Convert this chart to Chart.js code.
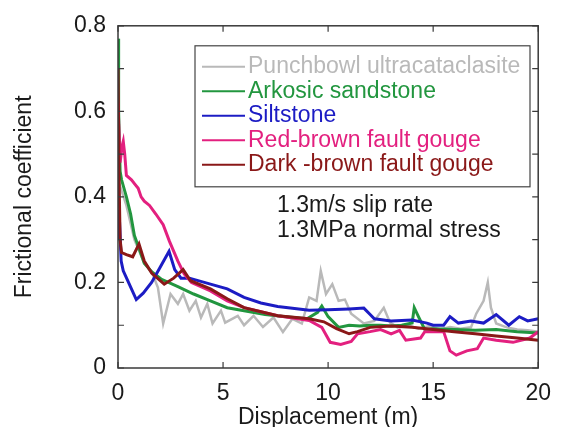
<!DOCTYPE html>
<html>
<head>
<meta charset="utf-8">
<script src="https://cdn.jsdelivr.net/npm/chart.js@4.4.1/dist/chart.umd.min.js"></script>
<style>
    html, body { margin: 0; padding: 0; background: #fff; }
    #wrap { width: 563px; height: 427px; }
</style>
</head>
<body>
<div id="wrap"><canvas id="frictionChart" width="563" height="427"></canvas></div>
<script>
// values (displacement in m, frictional coefficient)
const punchbowlX = [0, 0.4, 0.78, 1.25, 1.6, 1.9, 2.15, 2.5, 2.85, 3.1, 3.4, 3.7, 3.95, 4.25, 4.5, 4.9, 5.1, 5.7, 6.0, 6.45, 6.9, 7.4, 7.85, 8.3, 8.75, 9.1, 9.45, 9.65, 9.9, 10.2, 10.5, 10.8, 11.1, 11.7, 12.2, 12.65, 12.95, 13.3, 13.8, 14.3, 14.8, 15.3, 15.8, 16.3, 16.8, 17.05, 17.4, 17.6, 17.75, 18.0, 18.5, 19.0, 19.5, 20];
const punchbowlY = [0.44, 0.38, 0.3, 0.245, 0.225, 0.188, 0.104, 0.173, 0.15, 0.173, 0.134, 0.157, 0.118, 0.15, 0.104, 0.134, 0.106, 0.122, 0.1, 0.122, 0.096, 0.118, 0.084, 0.115, 0.104, 0.165, 0.157, 0.227, 0.173, 0.196, 0.157, 0.16, 0.127, 0.104, 0.11, 0.141, 0.106, 0.095, 0.1, 0.092, 0.098, 0.09, 0.096, 0.092, 0.095, 0.127, 0.157, 0.2, 0.141, 0.104, 0.095, 0.09, 0.088, 0.085];

const arkosicX = [0, 0.03, 0.1, 0.17, 0.4, 0.6, 0.78, 1.0, 1.25, 1.6, 2.05, 2.85, 3.6, 4.4, 5.2, 6.0, 7.0, 8.0, 9.0, 9.5, 9.7, 10.0, 10.5, 11.0, 11.5, 12.0, 12.5, 13.0, 13.5, 14.0, 14.1, 14.3, 14.6, 15.0, 16.0, 17.0, 18.0, 19.0, 20];
const arkosicY = [0.77, 0.6, 0.46, 0.44, 0.40, 0.36, 0.31, 0.28, 0.245, 0.225, 0.208, 0.19, 0.173, 0.157, 0.141, 0.134, 0.125, 0.12, 0.115, 0.13, 0.145, 0.12, 0.095, 0.1, 0.098, 0.1, 0.1, 0.098, 0.1, 0.105, 0.141, 0.12, 0.09, 0.092, 0.09, 0.088, 0.09, 0.085, 0.082];

const siltstoneX = [0, 0.05, 0.15, 0.25, 0.5, 0.87, 1.2, 1.6, 2.0, 2.43, 2.7, 3.0, 3.4, 4.4, 5.2, 6.0, 6.8, 7.6, 8.4, 9.1, 10.0, 11.0, 11.7, 12.0, 12.2, 13.0, 14.0, 14.7, 15.0, 15.5, 15.8, 16.2, 16.8, 17.4, 18.0, 18.6, 19.1, 19.5, 20];
const siltstoneY = [0.3, 0.37, 0.25, 0.227, 0.2, 0.16, 0.175, 0.2, 0.235, 0.273, 0.23, 0.21, 0.21, 0.196, 0.185, 0.165, 0.152, 0.144, 0.139, 0.135, 0.136, 0.138, 0.14, 0.125, 0.115, 0.11, 0.112, 0.105, 0.1, 0.1, 0.12, 0.105, 0.11, 0.105, 0.125, 0.1, 0.12, 0.11, 0.115];

const redBrownX = [0, 0.1, 0.2, 0.25, 0.32, 0.4, 0.64, 0.8, 0.96, 1.1, 1.25, 1.5, 1.8, 2.15, 2.45, 2.85, 3.15, 3.5, 4.4, 5.2, 6.0, 7.6, 9.1, 9.7, 10.1, 10.6, 11.1, 11.4, 12.0, 12.5, 13.0, 13.4, 13.7, 14.4, 14.6, 15.5, 15.8, 16.1, 16.6, 17.1, 17.4, 18.0, 18.8, 19.6, 20];
const redBrownY = [0.62, 0.48, 0.52, 0.53, 0.5, 0.45, 0.44, 0.43, 0.42, 0.4, 0.39, 0.38, 0.36, 0.335, 0.296, 0.25, 0.22, 0.2, 0.18, 0.157, 0.141, 0.122, 0.111, 0.095, 0.06, 0.055, 0.062, 0.08, 0.085, 0.09, 0.08, 0.088, 0.065, 0.07, 0.085, 0.085, 0.04, 0.03, 0.04, 0.045, 0.07, 0.065, 0.06, 0.07, 0.085];

const darkBrownX = [0, 0.05, 0.1, 0.17, 0.4, 0.7, 1.0, 1.25, 1.6, 2.2, 2.65, 3.1, 3.45, 4.4, 5.2, 6.0, 7.6, 9.1, 9.8, 10.4, 11.0, 11.4, 12.0, 13.0, 14.0, 15.0, 16.0, 17.0, 18.0, 19.0, 20];
const darkBrownY = [0.7, 0.45, 0.3, 0.27, 0.265, 0.26, 0.29, 0.25, 0.222, 0.196, 0.21, 0.23, 0.204, 0.185, 0.162, 0.141, 0.122, 0.115, 0.108, 0.092, 0.08, 0.085, 0.095, 0.098, 0.095, 0.09, 0.085, 0.08, 0.075, 0.07, 0.065];

const seriesLabels = ['Punchbowl ultracataclasite', 'Arkosic sandstone', 'Siltstone', 'Red-brown fault gouge', 'Dark -brown fault gouge'];
const seriesColors = ['#b9b9b9', '#22963f', '#1c1cc4', '#e3207f', '#8a1818'];
const xTicks = [0, 5, 10, 15, 20];
const yTicks = [0, 0.1, 0.2, 0.3, 0.4, 0.5, 0.6, 0.7, 0.8];
const yLabelTicks = [0, 0.2, 0.4, 0.6, 0.8];
const notes = ['1.3m/s slip rate', '1.3MPa normal stress'];

const FONT = '"Liberation Sans", Arial, sans-serif';

function toPoints(xs, ys) {
    return xs.map((x, i) => ({ x: x, y: ys[i] }));
}

const seriesData = [
    toPoints(punchbowlX, punchbowlY),
    toPoints(arkosicX, arkosicY),
    toPoints(siltstoneX, siltstoneY),
    toPoints(redBrownX, redBrownY),
    toPoints(darkBrownX, darkBrownY)
];

// box, inward ticks, legend and the two notes
const framePlugin = {
    id: 'frame',
    afterDatasetsDraw(chart) {
        const ctx = chart.ctx;
        const a = chart.chartArea;
        const xs = chart.scales.x;
        const ys = chart.scales.y;
        ctx.save();
        ctx.strokeStyle = '#3a3a3a';
        ctx.lineWidth = 1.5;
        ctx.strokeRect(a.left, a.top, a.right - a.left, a.bottom - a.top);

        ctx.lineWidth = 1.2;
        ctx.beginPath();
        xTicks.forEach(v => {
            const px = xs.getPixelForValue(v);
            ctx.moveTo(px, a.bottom); ctx.lineTo(px, a.bottom - 6);
            ctx.moveTo(px, a.top); ctx.lineTo(px, a.top + 6);
        });
        yTicks.forEach(v => {
            const py = ys.getPixelForValue(v);
            ctx.moveTo(a.left, py); ctx.lineTo(a.left + 6, py);
            ctx.moveTo(a.right, py); ctx.lineTo(a.right - 6, py);
        });
        ctx.stroke();

        // legend
        const lx = a.left + 77, ly = a.top + 20, lw = 335, lh = 141;
        ctx.fillStyle = '#fff';
        ctx.fillRect(lx, ly, lw, lh);
        ctx.strokeStyle = '#444';
        ctx.lineWidth = 1.2;
        ctx.strokeRect(lx, ly, lw, lh);
        ctx.font = '23px ' + FONT;
        ctx.textBaseline = 'middle';
        ctx.textAlign = 'left';
        chart.data.datasets.forEach((ds, i) => {
            const ry = ly + 21 + i * 24.5;
            ctx.strokeStyle = ds.borderColor;
            ctx.lineWidth = 2;
            ctx.beginPath();
            ctx.moveTo(lx + 7, ry); ctx.lineTo(lx + 50, ry);
            ctx.stroke();
            ctx.fillStyle = ds.borderColor;
            ctx.fillText(ds.label, lx + 53, ry);
        });

        ctx.fillStyle = '#1a1a1a';
        notes.forEach((t, i) => {
            ctx.fillText(t, a.left + 159, a.top + 180 + i * 25);
        });
        ctx.restore();
    }
};

const datasets = seriesData.map((pts, i) => ({
    label: seriesLabels[i],
    data: pts,
    borderColor: seriesColors[i],
    backgroundColor: seriesColors[i],
    borderWidth: i === 0 ? 2.5 : 3,
    pointRadius: 0,
    tension: 0,
    fill: false,
    order: seriesLabels.length - 1 - i
}));

new Chart(document.getElementById('frictionChart'), {
    type: 'line',
    data: { datasets: datasets },
    options: {
        responsive: false,
        animation: false,
        layout: { padding: { top: 22, right: 21, left: 0, bottom: 0 } },
        plugins: {
            legend: { display: false },
            tooltip: { enabled: false }
        },
        scales: {
            x: {
                type: 'linear',
                min: 0,
                max: 20,
                afterFit: s => { s.height = 59; },
                afterBuildTicks: s => { s.ticks = xTicks.map(v => ({ value: v })); },
                grid: { display: false, drawTicks: false },
                border: { display: false },
                ticks: {
                    color: '#1a1a1a',
                    padding: 12,
                    font: { family: FONT, size: 23 }
                },
                title: {
                    display: true,
                    text: 'Displacement (m)',
                    color: '#1a1a1a',
                    font: { family: FONT, size: 23 },
                    padding: { top: 0, bottom: -4 }
                }
            },
            y: {
                type: 'linear',
                min: 0,
                max: 0.8,
                afterFit: s => { s.width = 118; },
                afterBuildTicks: s => { s.ticks = yLabelTicks.map(v => ({ value: v })); },
                grid: { display: false, drawTicks: false },
                border: { display: false },
                ticks: {
                    color: '#1a1a1a',
                    padding: 12,
                    font: { family: FONT, size: 23 },
                    callback: v => v === 0 ? '0' : v.toFixed(1)
                },
                title: {
                    display: true,
                    text: 'Frictional coefficient',
                    color: '#1a1a1a',
                    font: { family: FONT, size: 23 },
                    padding: { top: 11, bottom: 0 }
                }
            }
        }
    },
    plugins: [framePlugin]
});
</script>
</body>
</html>
